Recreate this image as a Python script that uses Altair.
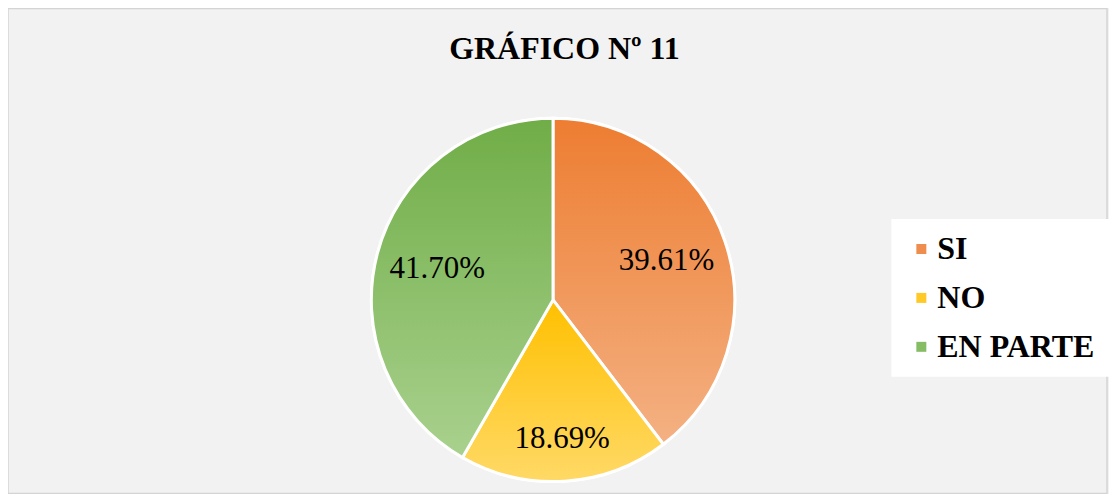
import altair as alt
import pandas as pd

categorias = ["SI", "NO", "EN PARTE"]
porcentajes = [39.61, 18.69, 41.70]
colores = ["#EF8D4E", "#FFC928", "#86BC63"]
grad_top = ["#ED7D31", "#FFC000", "#70AD47"]
grad_bottom = ["#F4B183", "#FFD966", "#A9D18E"]

df = pd.DataFrame({"cat": categorias, "val": porcentajes, "orden": list(range(len(categorias)))})

FONT = "'Liberation Serif', 'Times New Roman', serif"
CX, CY, R = 546, 292, 182

base = alt.Chart(df).transform_window(
    end="sum(val)", sort=[alt.SortField("orden")], frame=[None, 0]
).transform_calculate(
    start="datum.end - datum.val",
    mid="datum.end - datum.val / 2",
    label="format(datum.val, '.2f') + '%'",
)

theta = alt.Theta("start:Q", scale=alt.Scale(domain=[0, 100]))

solid = base.mark_arc(outerRadius=R, stroke="white", strokeWidth=3).encode(
    theta=theta,
    theta2="end:Q",
    x=alt.value(CX),
    y=alt.value(CY),
    color=alt.Color(
        "cat:N",
        scale=alt.Scale(domain=categorias, range=colores),
        sort=categorias,
        legend=alt.Legend(title=None),
    ),
)

layers = [solid]
for c, t, b in zip(categorias, grad_top, grad_bottom):
    grad = {
        "gradient": "linear",
        "x1": 0, "y1": 0, "x2": 0, "y2": 1,
        "stops": [{"offset": 0, "color": t}, {"offset": 1, "color": b}],
    }
    layers.append(
        base.transform_filter(alt.datum.cat == c)
        .mark_arc(outerRadius=R, stroke="white", strokeWidth=3, fill=grad)
        .encode(theta=theta, theta2="end:Q", x=alt.value(CX), y=alt.value(CY))
    )

for cond, rad in [("datum.cat != 'NO'", 120), ("datum.cat == 'NO'", 140)]:
    layers.append(
        base.transform_filter(cond)
        .mark_text(font=FONT, fontSize=31, color="black", radius=rad)
        .encode(
            theta=alt.Theta("mid:Q", scale=alt.Scale(domain=[0, 100])),
            x=alt.value(CX),
            y=alt.value(CY),
            text="label:N",
        )
    )

chart = alt.layer(*layers).properties(
    width=1101,
    height=486,
    padding=0,
    background="#f2f2f2",
    title=alt.Title(
        "GRÁFICO Nº 11",
        font=FONT,
        fontSize=32,
        fontWeight="bold",
        color="black",
        anchor="middle",
        offset=-58,
        dx=7,
    ),
).configure_view(
    stroke="#d4d4d4", strokeWidth=1.5
).configure_text(
    font=FONT
).configure_legend(
    orient="none",
    legendX=885,
    legendY=211,
    fillColor="white",
    padding=14,
    labelFont=FONT,
    labelFontSize=32,
    labelFontWeight="bold",
    labelColor="black",
    labelLimit=400,
    labelOffset=0,
    symbolType="square",
    symbolSize=100,
    symbolStrokeWidth=0,
    rowPadding=17,
)

chart.save("out.html", embed_options={"renderer": "svg", "actions": False})
